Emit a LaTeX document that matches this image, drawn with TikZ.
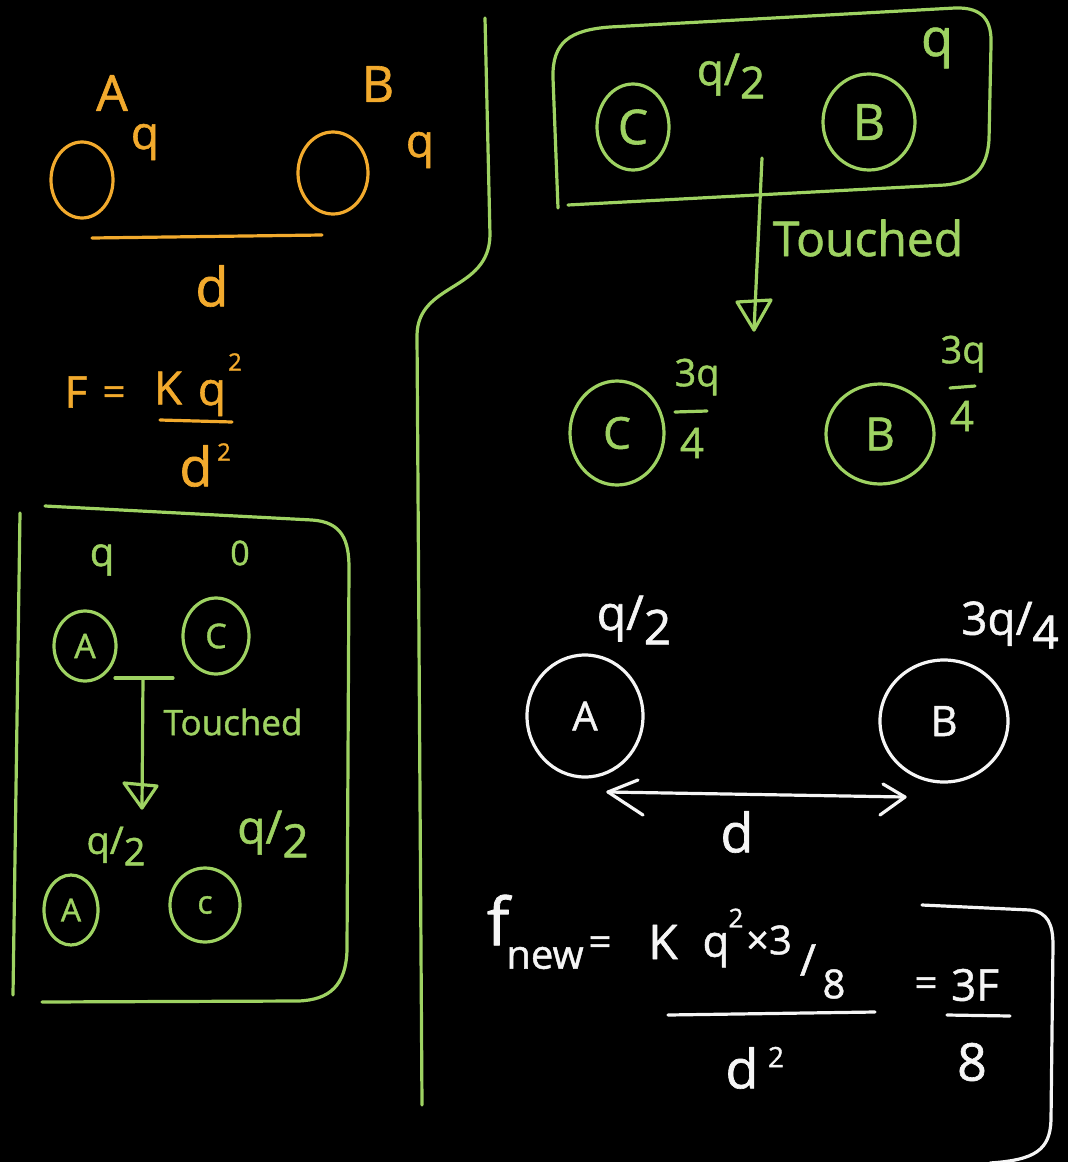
\documentclass[tikz,border=0pt]{standalone}
\usepackage{fontspec}
\setmainfont{Open Sans}[FakeBold=1.2]
\usetikzlibrary{shapes.geometric}
\definecolor{org}{RGB}{242,170,45}
\definecolor{grn}{RGB}{158,210,98}
\definecolor{wht}{RGB}{245,245,245}
\begin{document}
\begin{tikzpicture}[x=1pt,y=-1pt,line cap=round,line join=round,
  pen/.style={line width=3.2pt},
  ball/.style={ellipse, draw, line width=3.2pt, inner sep=0pt},
  lbl/.style={inner sep=0pt, font=\fontsize{#1}{#1}\selectfont}]
\fill[black] (0,0) rectangle (1068,1162);
\useasboundingbox (0,0) rectangle (1068,1162);

% ---------- orange part ----------
\begin{scope}[color=org]
\node[lbl=50] (tA) at (112,93) {A};
\node[ball, minimum width=62pt, minimum height=76pt] (oA) at (82,180) {};
\node[lbl=46] (qa) at (145,142) {q};
\node[lbl=50] (tB) at (378,84) {B};
\node[ball, minimum width=70pt, minimum height=82pt] (oB) at (333,173) {};
\node[lbl=46] (qb) at (420,150) {q};
\coordinate (dl) at (92,238); \coordinate (dr) at (322,235);
\draw[pen] (dl) -- (dr);
\node[lbl=54] (dd) at (212,286) {d};
\node[lbl=44] (F) at (76,392) {F};
\node[lbl=40] (eq1) at (114,396) {=};
\node[lbl=46] (K) at (168,388) {K};
\node[lbl=46] (q1) at (212,398) {q};
\node[lbl=24] (s1) at (235,362) {2};
\coordinate (fa) at (160,420); \coordinate (fb) at (232,422);
\draw[pen] (fa) -- (fb);
\node[lbl=54] (dq) at (196,466) {d};
\node[lbl=24] (s2) at (224,452) {2};
\end{scope}

% ---------- green part ----------
\begin{scope}[color=grn]
% divider
\draw[pen] (485,18) -- (490,235) .. controls (489,292) and (418,282) .. (417,335) -- (422,1105);
% left box
\draw[pen] (20,513) -- (13,995);
\draw[pen] (45,506) -- (312,520) .. controls (342,522) and (349,540) .. (349,568) -- (347,950) .. controls (346,985) and (330,1000) .. (298,1001) -- (42,1002);
\node[lbl=40] (q0) at (102,560) {q};
\node[lbl=34] (z0) at (240,553) {0};
\node[ball, lbl=34, minimum width=62pt, minimum height=70pt] (gA) at (85,646) {A};
\node[ball, lbl=34, minimum width=66pt, minimum height=76pt] (gC) at (216,636) {C};
\coordinate (t1) at (115,678); \coordinate (t2) at (173,678);
\draw[pen] (t1) -- (t2);
\coordinate (a1) at (143,678); \coordinate (a2) at (142,808);
\draw[pen] (a1) -- (a2);
\draw[pen] (124,783) -- (157,786) -- (a2) -- cycle;
\node[lbl=35] (tc1) at (233,722) {Touched};
\node[lbl=38] (h1) at (116,846) {q/\raisebox{-.3em}{2}};
\node[lbl=46] (h2) at (273,834) {q/\raisebox{-.3em}{2}};
\node[ball, lbl=32, minimum width=54pt, minimum height=70pt] (gA2) at (71,910) {A};
\node[ball, lbl=32, minimum width=70pt, minimum height=74pt] (gC2) at (205,905) {c};
% right top box
\draw[pen] (558,208) -- (553,78) .. controls (552,42) and (570,30) .. (610,27) -- (955,8) .. controls (984,7) and (992,22) .. (991,45) -- (989,140) .. controls (987,168) and (975,182) .. (945,185) -- (568,205);
\node[ball, lbl=48, minimum width=72pt, minimum height=86pt] (rC) at (633,127) {C};
\node[lbl=44] (rh) at (731,76) {q/\raisebox{-.3em}{2}};
\node[ball, lbl=50, minimum width=92pt, minimum height=96pt] (rB) at (869,122) {B};
\node[lbl=52] (rq) at (937,48) {q};
\coordinate (b1) at (762,158); \coordinate (b2) at (754,330);
\draw[pen] (b1) -- (b2);
\draw[pen] (737,302) -- (771,300) -- (b2) -- cycle;
\node[lbl=48] (tc2) at (868,238) {Touched};
\node[ball, lbl=44, minimum width=94pt, minimum height=104pt] (rC2) at (617,433) {C};
\node[lbl=38] (n1) at (697,377) {3q};
\coordinate (m1) at (675,412); \coordinate (m2) at (707,411);
\draw[pen] (m1) -- (m2);
\node[lbl=42] (n2) at (692,443) {4};
\node[ball, lbl=46, minimum width=108pt, minimum height=100pt] (rB2) at (880,434) {B};
\node[lbl=38] (n3) at (963,354) {3q};
\coordinate (m3) at (950,388); \coordinate (m4) at (975,386);
\draw[pen] (m3) -- (m4);
\node[lbl=42] (n4) at (962,416) {4};
\end{scope}

% ---------- white part ----------
\begin{scope}[color=wht]
\node[lbl=48] (w1) at (634,620) {q/\raisebox{-.3em}{2}};
\node[lbl=46] (w2) at (1010,625) {3q/\raisebox{-.3em}{4}};
\node[ball, lbl=40, minimum width=116pt, minimum height=122pt] (wA) at (585,716) {A};
\node[ball, lbl=42, minimum width=128pt, minimum height=122pt] (wB) at (944,721) {B};
\coordinate (e1) at (608,792); \coordinate (e2) at (905,797);
\draw[pen] (e1) -- (e2);
\draw[pen] (638,780) -- (e1) -- (643,815);
\draw[pen] (883,784) -- (e2) -- (880,815);
\node[lbl=54] (wd) at (737,832) {d};
\node[lbl=66] (ff) at (498,920) {f};
\node[lbl=40] (fn) at (545,958) {new};
\node[lbl=40] (fe) at (600,946) {=};
\node[lbl=48] (fK) at (663,942) {K};
\node[lbl=44] (fq) at (716,950) {q};
\node[lbl=26] (fs) at (736,918) {2};
\node[lbl=40] (fx) at (769,940) {×3};
\node[lbl=44] (fsl) at (808,960) {/};
\node[lbl=40] (f8a) at (834,984) {8};
\coordinate (g1) at (668,1015); \coordinate (g2) at (875,1012);
\draw[pen] (g1) -- (g2);
\node[lbl=54] (fd) at (742,1068) {d};
\node[lbl=28] (fds) at (776,1057) {2};
\node[lbl=40] (fe2) at (926,987) {=};
\node[lbl=44] (f3F) at (975,985) {3F};
\coordinate (g3) at (947,1015); \coordinate (g4) at (1010,1016);
\draw[pen] (g3) -- (g4);
\node[lbl=52] (f88) at (972,1062) {8};
\draw[pen] (922,905) -- (1030,910) .. controls (1048,912) and (1053,925) .. (1053,945) -- (1051,1120) .. controls (1050,1150) and (1035,1160) .. (990,1163);
\end{scope}
\end{tikzpicture}
\end{document}
